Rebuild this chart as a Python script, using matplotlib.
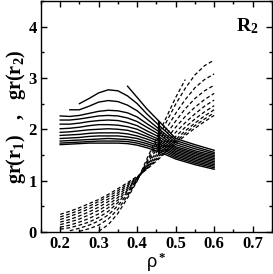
import numpy as np
import matplotlib
matplotlib.use('Agg')
import matplotlib.pyplot as plt
from matplotlib.ticker import MultipleLocator

plt.rcParams['font.family'] = ['Liberation Serif', 'DejaVu Serif']
plt.rcParams['mathtext.fontset'] = 'custom'
plt.rcParams['mathtext.rm'] = 'Liberation Serif:bold'
plt.rcParams['mathtext.bf'] = 'Liberation Serif:bold'
plt.rcParams['mathtext.it'] = 'Liberation Serif:bold'
plt.rcParams['mathtext.default'] = 'bf'

nan = np.nan

# ── solid curves: gr(r1) ─────────────────────────────────────────────────────
rho_s = [0.20, 0.225, 0.25, 0.275, 0.30, 0.325, 0.35, 0.375, 0.40, 0.425, 0.4575, 0.50, 0.55, 0.60]
solid = [
    [1.70, 1.71, 1.72, 1.73, 1.73, 1.73, 1.73, 1.72, 1.69, 1.64, 1.56, 1.42, 1.31, 1.22],
    [1.73, 1.74, 1.75, 1.76, 1.77, 1.77, 1.77, 1.76, 1.73, 1.68, 1.60, 1.45, 1.34, 1.25],
    [1.77, 1.78, 1.79, 1.80, 1.81, 1.82, 1.81, 1.80, 1.77, 1.72, 1.64, 1.48, 1.37, 1.28],
    [1.82, 1.83, 1.84, 1.86, 1.87, 1.87, 1.87, 1.85, 1.82, 1.76, 1.68, 1.51, 1.40, 1.31],
    [1.88, 1.89, 1.90, 1.92, 1.93, 1.93, 1.93, 1.91, 1.87, 1.81, 1.72, 1.54, 1.43, 1.34],
    [1.94, 1.95, 1.97, 1.99, 2.00, 2.01, 2.00, 1.98, 1.93, 1.86, 1.76, 1.57, 1.46, 1.37],
    [2.01, 2.02, 2.04, 2.07, 2.09, 2.09, 2.08, 2.05, 2.00, 1.91, 1.80, 1.60, 1.49, 1.40],
    [2.10, 2.10, 2.12, 2.15, 2.17, 2.18, 2.17, 2.13, 2.07, 1.97, 1.85, 1.63, 1.52, 1.43],
    [2.18, 2.18, 2.20, 2.23, 2.26, 2.27, 2.26, 2.22, 2.15, 2.04, 1.90, 1.66, 1.55, 1.46],
    [2.26, 2.25, 2.27, 2.31, 2.35, 2.37, 2.36, 2.32, 2.24, 2.11, 1.95, 1.70, 1.58, 1.49],
    [nan, 2.38, 2.38, 2.45, 2.53, 2.56, 2.54, 2.47, 2.36, 2.20, 2.00, 1.74, 1.62, 1.52],
    [nan, nan, 2.50, 2.60, 2.71, 2.77, 2.75, 2.65, 2.50, 2.30, 2.07, 1.78, 1.66, 1.55],
    [nan, nan, nan, nan, nan, nan, nan, 2.84, 2.62, 2.40, 2.15, 1.82, 1.70, 1.59],
]

# vertical segment
rho_v = [0.4575, 0.4575]
g_v = [1.53, 2.15]

# ── dashed curves: gr(r2) ────────────────────────────────────────────────────
rho_d = [0.20, 0.225, 0.25, 0.275, 0.30, 0.325, 0.35, 0.375, 0.40, 0.425,
         0.45, 0.475, 0.50, 0.525, 0.55, 0.575, 0.60]
dashed = [
    [0.34, 0.40, 0.47, 0.55, 0.63, 0.73, 0.84, 0.96, 1.08, 1.22, 1.38, 1.55, 1.72, 1.88, 2.02, 2.15, 2.27],
    [0.29, 0.35, 0.42, 0.50, 0.59, 0.69, 0.80, 0.93, 1.07, 1.23, 1.40, 1.58, 1.76, 1.92, 2.07, 2.20, 2.32],
    [0.24, 0.30, 0.37, 0.45, 0.54, 0.64, 0.76, 0.90, 1.06, 1.24, 1.43, 1.62, 1.80, 1.97, 2.12, 2.26, 2.38],
    [0.19, 0.24, 0.31, 0.39, 0.48, 0.59, 0.72, 0.87, 1.05, 1.25, 1.46, 1.67, 1.86, 2.04, 2.20, 2.34, 2.46],
    [0.14, 0.19, 0.25, 0.33, 0.42, 0.53, 0.67, 0.84, 1.04, 1.27, 1.50, 1.73, 1.94, 2.13, 2.30, 2.45, 2.57],
    [0.09, 0.13, 0.19, 0.26, 0.35, 0.47, 0.62, 0.81, 1.03, 1.29, 1.55, 1.80, 2.04, 2.25, 2.43, 2.58, 2.70],
    [0.05, 0.08, 0.13, 0.19, 0.28, 0.40, 0.57, 0.78, 1.02, 1.31, 1.61, 1.89, 2.16, 2.40, 2.60, 2.75, 2.86],
    [nan, 0.02, 0.07, 0.13, 0.21, 0.33, 0.51, 0.74, 1.01, 1.34, 1.68, 2.00, 2.31, 2.58, 2.81, 2.97, 3.08],
    [nan, nan, 0.01, 0.06, 0.13, 0.25, 0.44, 0.70, 1.00, 1.37, 1.76, 2.13, 2.49, 2.80, 3.06, 3.24, 3.35],
    [nan, nan, nan, nan, 0.01, 0.14, 0.36, 0.66, 0.99, 1.42, 1.82, 2.22, 2.62, 2.97, nan, nan, nan],
]

fig = plt.figure(figsize=(2.73, 2.74), dpi=100)
ax = fig.add_axes([0.150, 0.154, 0.846, 0.842])

for g in solid:
    ax.plot(rho_s, g, color='black', linewidth=1.0)
ax.plot(rho_v, g_v, color='black', linewidth=1.6)
for g in dashed:
    ax.plot(rho_d, g, color='black', linewidth=0.9, linestyle=(0, (3, 2)))

ax.set_xlim(0.15, 0.75)
ax.set_ylim(0, 4.5)
ax.xaxis.set_major_locator(MultipleLocator(0.1))
ax.xaxis.set_minor_locator(MultipleLocator(0.05))
ax.yaxis.set_major_locator(MultipleLocator(1))
ax.yaxis.set_minor_locator(MultipleLocator(0.5))
ax.tick_params(which='both', direction='in', top=True, right=True, width=1)
ax.tick_params(which='major', length=4.5, labelsize=12, pad=3)
ax.tick_params(which='minor', length=2.5)
for lab in ax.get_xticklabels() + ax.get_yticklabels():
    lab.set_fontweight('bold')
ax.xaxis.set_major_formatter(plt.FuncFormatter(lambda v, p: f'{v:.1f}'))
ax.yaxis.set_major_formatter(plt.FuncFormatter(lambda v, p: f'{v:.0f}'))
for sp in ax.spines.values():
    sp.set_linewidth(1.0)

ax.set_ylabel(r'gr(r$_1$)   ,   gr(r$_2$)', fontsize=14.5, fontweight='bold')
ax.yaxis.set_label_coords(-0.055, 0.5)
ax.set_xlabel(r'ρ$^*$', fontsize=13, family=['Liberation Sans', 'DejaVu Sans'], labelpad=-1)

ax.text(0.94, 0.935, r'R$_2$', transform=ax.transAxes, ha='right', va='top',
        fontsize=14, fontweight='bold')

fig.savefig('out.png', dpi=100)
